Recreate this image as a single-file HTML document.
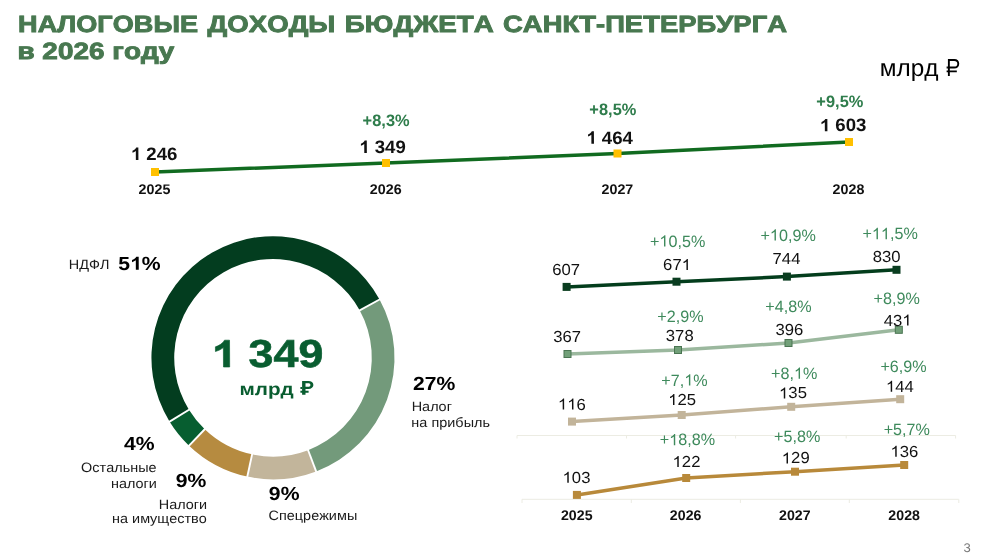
<!DOCTYPE html>
<html><head><meta charset="utf-8"><style>
html,body{margin:0;padding:0;background:#fff;}
body{width:990px;height:557px;overflow:hidden;}
svg{display:block;font-family:"Liberation Sans",sans-serif;will-change:transform;font-kerning:none;}
</style></head><body>
<svg width="990" height="557" viewBox="0 0 990 557">
<polyline points="155,172 386,163 617.5,153.5 849,142" fill="none" stroke="#116b20" stroke-width="3.5"/>
<rect x="151" y="168" width="8" height="8" fill="#ffc000"/>
<rect x="382" y="159" width="8" height="8" fill="#ffc000"/>
<rect x="613.5" y="149.5" width="8" height="8" fill="#ffc000"/>
<rect x="845" y="138" width="8" height="8" fill="#ffc000"/>
<path d="M379.57,299.45 A121.5,121.5 0 0 1 316.15,471.38 L308.08,450.16 A98.80000000000001,98.80000000000001 0 0 0 359.66,310.35Z" fill="#739a7b"/>
<path d="M316.15,471.38 A121.5,121.5 0 0 1 247.32,476.56 L252.12,454.37 A98.80000000000001,98.80000000000001 0 0 0 308.08,450.16Z" fill="#c2b59b"/>
<path d="M247.32,476.56 A121.5,121.5 0 0 1 189.06,445.64 L204.74,429.23 A98.80000000000001,98.80000000000001 0 0 0 252.12,454.37Z" fill="#b68b40"/>
<path d="M189.06,445.64 A121.5,121.5 0 0 1 169.63,421.64 L188.94,409.72 A98.80000000000001,98.80000000000001 0 0 0 204.74,429.23Z" fill="#075e30"/>
<path d="M169.63,421.64 A121.5,121.5 0 1 1 379.57,299.45 L359.66,310.35 A98.80000000000001,98.80000000000001 0 1 0 188.94,409.72Z" fill="#033d1f"/>
<line x1="358.78" y1="310.83" x2="380.45" y2="298.97" stroke="#fff" stroke-width="1.9"/>
<line x1="307.73" y1="449.23" x2="316.50" y2="472.32" stroke="#fff" stroke-width="1.9"/>
<line x1="252.33" y1="453.39" x2="247.11" y2="477.53" stroke="#fff" stroke-width="1.9"/>
<line x1="205.43" y1="428.51" x2="188.37" y2="446.36" stroke="#fff" stroke-width="1.9"/>
<line x1="189.79" y1="409.19" x2="168.78" y2="422.17" stroke="#fff" stroke-width="1.9"/>
<path d="M517,435.5 H955.6 M517,435.5 V438.5 M626.5,435.5 V438.5 M735.6,435.5 V438.5 M846.2,435.5 V438.5 M955.6,435.5 V438.5" stroke="#ecece3" stroke-width="1" fill="none"/>
<path d="M522,499.3 H958.8 M522,499.3 V503 M631.3,499.3 V503 M740.4,499.3 V503 M849.3,499.3 V503 M958.8,499.3 V503" stroke="#ecece3" stroke-width="1" fill="none"/>
<polyline points="566.6,286.9 676.5,281.7 786.9,276.6 896.5,269.8" fill="none" stroke="#033d1c" stroke-width="3.5"/>
<rect x="562.6" y="282.9" width="8" height="8" fill="#0a3d20"/>
<rect x="672.5" y="277.7" width="8" height="8" fill="#0a3d20"/>
<rect x="782.9" y="272.6" width="8" height="8" fill="#0a3d20"/>
<rect x="892.5" y="265.8" width="8" height="8" fill="#0a3d20"/>
<polyline points="567.5,354 678,350 788.5,343 898.8,329.8" fill="none" stroke="#9bb89e" stroke-width="3.5"/>
<rect x="564.0" y="350.5" width="7" height="7" fill="#72a079" stroke="#4a7552" stroke-width="1"/>
<rect x="674.5" y="346.5" width="7" height="7" fill="#72a079" stroke="#4a7552" stroke-width="1"/>
<rect x="785.0" y="339.5" width="7" height="7" fill="#72a079" stroke="#4a7552" stroke-width="1"/>
<rect x="895.3" y="326.3" width="7" height="7" fill="#72a079" stroke="#4a7552" stroke-width="1"/>
<polyline points="572,421.6 681.7,415 791.2,406.8 900.2,399.2" fill="none" stroke="#c2b49a" stroke-width="3.5"/>
<rect x="568" y="417.6" width="8" height="8" fill="#c2b49a"/>
<rect x="677.7" y="411" width="8" height="8" fill="#c2b49a"/>
<rect x="787.2" y="402.8" width="8" height="8" fill="#c2b49a"/>
<rect x="896.2" y="395.2" width="8" height="8" fill="#c2b49a"/>
<polyline points="576.9,494.9 686.2,478 795,471.7 904.2,465" fill="none" stroke="#b8893a" stroke-width="3.5"/>
<rect x="572.9" y="490.9" width="8" height="8" fill="#b8893a"/>
<rect x="682.2" y="474" width="8" height="8" fill="#b8893a"/>
<rect x="791" y="467.7" width="8" height="8" fill="#b8893a"/>
<rect x="900.2" y="461" width="8" height="8" fill="#b8893a"/>
<text transform="translate(18.05,32.3) skewX(0.3) scale(1.1547,1)" font-size="23.5" font-weight="bold" fill="#487850" stroke="#487850" stroke-width="0.9" stroke-linejoin="miter" stroke-miterlimit="2">НАЛОГОВЫЕ</text>
<text transform="translate(207.49,32.3) skewX(0.3) scale(1.1768,1)" font-size="23.5" font-weight="bold" fill="#487850" stroke="#487850" stroke-width="0.9" stroke-linejoin="miter" stroke-miterlimit="2">ДОХОДЫ</text>
<text transform="translate(344.82,32.3) skewX(0.3) scale(1.1816,1)" font-size="23.5" font-weight="bold" fill="#487850" stroke="#487850" stroke-width="0.9" stroke-linejoin="miter" stroke-miterlimit="2">БЮДЖЕТА</text>
<text transform="translate(503.02,32.3) skewX(0.3) scale(1.1682,1)" font-size="23.5" font-weight="bold" fill="#487850" stroke="#487850" stroke-width="0.9" stroke-linejoin="miter" stroke-miterlimit="2">САНКТ-ПЕТЕРБУРГА</text>
<text transform="translate(17.41,59.2) skewX(0.3) scale(1.1893,1)" font-size="23.5" font-weight="bold" fill="#487850" stroke="#487850" stroke-width="0.9" stroke-linejoin="miter" stroke-miterlimit="2">в 2026 году</text>
<text transform="translate(879.67,76.2) skewX(0.3) scale(1.0179,1)" font-size="24" font-weight="normal" fill="#000">млрд</text>
<text transform="translate(130.69,160) skewX(0.3) scale(1.0382,1)" font-size="18" font-weight="bold" fill="#111">  246</text>
<path transform="translate(130.69,160) skewX(0.3) scale(1.0382,1) translate(0.000,0) scale(0.00879,-0.00879)" d="M847,0 H566 V1018 Q412,879 203,813 V1058 Q313,1093 442,1190 Q571,1286 619,1409 H847 Z" fill="#111"/>
<text transform="translate(359.12,153) skewX(0.3) scale(1.0382,1)" font-size="18" font-weight="bold" fill="#111">  349</text>
<path transform="translate(359.12,153) skewX(0.3) scale(1.0382,1) translate(0.000,0) scale(0.00879,-0.00879)" d="M847,0 H566 V1018 Q412,879 203,813 V1058 Q313,1093 442,1190 Q571,1286 619,1409 H847 Z" fill="#111"/>
<text transform="translate(586.23,143.7) skewX(0.3) scale(1.0382,1)" font-size="18" font-weight="bold" fill="#111">  464</text>
<path transform="translate(586.23,143.7) skewX(0.3) scale(1.0382,1) translate(0.000,0) scale(0.00879,-0.00879)" d="M847,0 H566 V1018 Q412,879 203,813 V1058 Q313,1093 442,1190 Q571,1286 619,1409 H847 Z" fill="#111"/>
<text transform="translate(819.69,131.3) skewX(0.3) scale(1.0382,1)" font-size="18" font-weight="bold" fill="#111">  603</text>
<path transform="translate(819.69,131.3) skewX(0.3) scale(1.0382,1) translate(0.000,0) scale(0.00879,-0.00879)" d="M847,0 H566 V1018 Q412,879 203,813 V1058 Q313,1093 442,1190 Q571,1286 619,1409 H847 Z" fill="#111"/>
<text transform="translate(362.59,125.8) skewX(0.3) scale(0.9964,1)" font-size="16.5" font-weight="bold" fill="#2f7d4c">+8,3%</text>
<text transform="translate(589.34,115.4) skewX(0.3) scale(0.9964,1)" font-size="16.5" font-weight="bold" fill="#2f7d4c">+8,5%</text>
<text transform="translate(816.34,106.7) skewX(0.3) scale(0.9964,1)" font-size="16.5" font-weight="bold" fill="#2f7d4c">+9,5%</text>
<text transform="translate(138.49,193.8) skewX(0.3) scale(1.0245,1)" font-size="14" font-weight="bold" fill="#111">2025</text>
<text transform="translate(369.79,194) skewX(0.3) scale(1.0245,1)" font-size="14" font-weight="bold" fill="#111">2026</text>
<text transform="translate(601.47,194.3) skewX(0.3) scale(1.0245,1)" font-size="14" font-weight="bold" fill="#111">2027</text>
<text transform="translate(832.49,194.3) skewX(0.3) scale(1.0245,1)" font-size="14" font-weight="bold" fill="#111">2028</text>
<text transform="translate(211.07,367) skewX(0.3) scale(1.1526,1)" font-size="39" font-weight="bold" fill="#095d30" stroke="#095d30" stroke-width="0.6" stroke-linejoin="miter" stroke-miterlimit="2">  349</text>
<path transform="translate(211.07,367) skewX(0.3) scale(1.1526,1) translate(0.000,0) scale(0.01904,-0.01904)" d="M847,0 H566 V1018 Q412,879 203,813 V1058 Q313,1093 442,1190 Q571,1286 619,1409 H847 Z" fill="#095d30" stroke="#095d30" stroke-width="31.5" stroke-linejoin="miter" stroke-miterlimit="2"/>
<text transform="translate(239.42,394.7) skewX(0.3) scale(1.1864,1)" font-size="17.5" font-weight="bold" fill="#095d30">млрд</text>
<text transform="translate(68.78,268.9) skewX(0.3) scale(1.0720,1)" font-size="13.5" font-weight="normal" fill="#1a1a1a">НДФЛ</text>
<text transform="translate(118.19,269.8) skewX(0.3) scale(1.1164,1)" font-size="19" font-weight="bold" fill="#000">5 %</text>
<path transform="translate(118.19,269.8) skewX(0.3) scale(1.1164,1) translate(10.562,0) scale(0.00928,-0.00928)" d="M847,0 H566 V1018 Q412,879 203,813 V1058 Q313,1093 442,1190 Q571,1286 619,1409 H847 Z" fill="#000"/>
<text transform="translate(412.90,389.5) skewX(0.3) scale(1.1164,1)" font-size="19" font-weight="bold" fill="#000">27%</text>
<text transform="translate(411.68,410.9) skewX(0.3) scale(1.0720,1)" font-size="13.5" font-weight="normal" fill="#1a1a1a">Налог</text>
<text transform="translate(411.37,426.6) skewX(0.3) scale(1.0720,1)" font-size="13.5" font-weight="normal" fill="#1a1a1a">на прибыль</text>
<text transform="translate(123.89,449.7) skewX(0.3) scale(1.1164,1)" font-size="19" font-weight="bold" fill="#000">4%</text>
<text transform="translate(81.08,472) skewX(0.3) scale(1.0720,1)" font-size="13.5" font-weight="normal" fill="#1a1a1a">Остальные</text>
<text transform="translate(110.99,487.8) skewX(0.3) scale(1.0720,1)" font-size="13.5" font-weight="normal" fill="#1a1a1a">налоги</text>
<text transform="translate(175.80,487.2) skewX(0.3) scale(1.1164,1)" font-size="19" font-weight="bold" fill="#000">9%</text>
<text transform="translate(158.80,508.9) skewX(0.3) scale(1.0720,1)" font-size="13.5" font-weight="normal" fill="#1a1a1a">Налоги</text>
<text transform="translate(112.00,523.3) skewX(0.3) scale(1.0720,1)" font-size="13.5" font-weight="normal" fill="#1a1a1a">на имущество</text>
<text transform="translate(268.85,499.8) skewX(0.3) scale(1.1164,1)" font-size="19" font-weight="bold" fill="#000">9%</text>
<text transform="translate(268.50,519.6) skewX(0.3) scale(1.0720,1)" font-size="13.5" font-weight="normal" fill="#1a1a1a">Спецрежимы</text>
<text transform="translate(552.15,274.5) skewX(0.3) scale(1.0455,1)" font-size="16" font-weight="normal" fill="#111">607</text>
<text transform="translate(663.09,270.1) skewX(0.3) scale(1.0455,1)" font-size="16" font-weight="normal" fill="#111">67 </text>
<path transform="translate(663.09,270.1) skewX(0.3) scale(1.0455,1) translate(17.797,0) scale(0.00781,-0.00781)" d="M763,0 H583 V1102 Q518,1043 412,983 Q306,924 221,894 V1061 Q372,1129 485,1226 Q598,1323 645,1409 H763 Z" fill="#111"/>
<text transform="translate(772.54,264.4) skewX(0.3) scale(1.0455,1)" font-size="16" font-weight="normal" fill="#111">744</text>
<text transform="translate(872.67,262) skewX(0.3) scale(1.0455,1)" font-size="16" font-weight="normal" fill="#111">830</text>
<text transform="translate(553.20,341.5) skewX(0.3) scale(1.0455,1)" font-size="16" font-weight="normal" fill="#111">367</text>
<text transform="translate(665.82,340.9) skewX(0.3) scale(1.0455,1)" font-size="16" font-weight="normal" fill="#111">378</text>
<text transform="translate(775.52,334.5) skewX(0.3) scale(1.0455,1)" font-size="16" font-weight="normal" fill="#111">396</text>
<text transform="translate(883.70,325.5) skewX(0.3) scale(1.0455,1)" font-size="16" font-weight="normal" fill="#111">43 </text>
<path transform="translate(883.70,325.5) skewX(0.3) scale(1.0455,1) translate(17.797,0) scale(0.00781,-0.00781)" d="M763,0 H583 V1102 Q518,1043 412,983 Q306,924 221,894 V1061 Q372,1129 485,1226 Q598,1323 645,1409 H763 Z" fill="#111"/>
<text transform="translate(557.94,409.5) skewX(0.3) scale(1.0455,1)" font-size="16" font-weight="normal" fill="#111">  6</text>
<path transform="translate(557.94,409.5) skewX(0.3) scale(1.0455,1) translate(0.000,0) scale(0.00781,-0.00781)" d="M763,0 H583 V1102 Q518,1043 412,983 Q306,924 221,894 V1061 Q372,1129 485,1226 Q598,1323 645,1409 H763 Z" fill="#111"/>
<path transform="translate(557.94,409.5) skewX(0.3) scale(1.0455,1) translate(8.891,0) scale(0.00781,-0.00781)" d="M763,0 H583 V1102 Q518,1043 412,983 Q306,924 221,894 V1061 Q372,1129 485,1226 Q598,1323 645,1409 H763 Z" fill="#111"/>
<text transform="translate(668.24,405.1) skewX(0.3) scale(1.0455,1)" font-size="16" font-weight="normal" fill="#111"> 25</text>
<path transform="translate(668.24,405.1) skewX(0.3) scale(1.0455,1) translate(0.000,0) scale(0.00781,-0.00781)" d="M763,0 H583 V1102 Q518,1043 412,983 Q306,924 221,894 V1061 Q372,1129 485,1226 Q598,1323 645,1409 H763 Z" fill="#111"/>
<text transform="translate(779.04,398.4) skewX(0.3) scale(1.0455,1)" font-size="16" font-weight="normal" fill="#111"> 35</text>
<path transform="translate(779.04,398.4) skewX(0.3) scale(1.0455,1) translate(0.000,0) scale(0.00781,-0.00781)" d="M763,0 H583 V1102 Q518,1043 412,983 Q306,924 221,894 V1061 Q372,1129 485,1226 Q598,1323 645,1409 H763 Z" fill="#111"/>
<text transform="translate(885.96,391.8) skewX(0.3) scale(1.0455,1)" font-size="16" font-weight="normal" fill="#111"> 44</text>
<path transform="translate(885.96,391.8) skewX(0.3) scale(1.0455,1) translate(0.000,0) scale(0.00781,-0.00781)" d="M763,0 H583 V1102 Q518,1043 412,983 Q306,924 221,894 V1061 Q372,1129 485,1226 Q598,1323 645,1409 H763 Z" fill="#111"/>
<text transform="translate(562.54,482.8) skewX(0.3) scale(1.0455,1)" font-size="16" font-weight="normal" fill="#111"> 03</text>
<path transform="translate(562.54,482.8) skewX(0.3) scale(1.0455,1) translate(0.000,0) scale(0.00781,-0.00781)" d="M763,0 H583 V1102 Q518,1043 412,983 Q306,924 221,894 V1061 Q372,1129 485,1226 Q598,1323 645,1409 H763 Z" fill="#111"/>
<text transform="translate(672.54,467) skewX(0.3) scale(1.0455,1)" font-size="16" font-weight="normal" fill="#111"> 22</text>
<path transform="translate(672.54,467) skewX(0.3) scale(1.0455,1) translate(0.000,0) scale(0.00781,-0.00781)" d="M763,0 H583 V1102 Q518,1043 412,983 Q306,924 221,894 V1061 Q372,1129 485,1226 Q598,1323 645,1409 H763 Z" fill="#111"/>
<text transform="translate(781.79,463.4) skewX(0.3) scale(1.0455,1)" font-size="16" font-weight="normal" fill="#111"> 29</text>
<path transform="translate(781.79,463.4) skewX(0.3) scale(1.0455,1) translate(0.000,0) scale(0.00781,-0.00781)" d="M763,0 H583 V1102 Q518,1043 412,983 Q306,924 221,894 V1061 Q372,1129 485,1226 Q598,1323 645,1409 H763 Z" fill="#111"/>
<text transform="translate(890.49,456.8) skewX(0.3) scale(1.0455,1)" font-size="16" font-weight="normal" fill="#111"> 36</text>
<path transform="translate(890.49,456.8) skewX(0.3) scale(1.0455,1) translate(0.000,0) scale(0.00781,-0.00781)" d="M763,0 H583 V1102 Q518,1043 412,983 Q306,924 221,894 V1061 Q372,1129 485,1226 Q598,1323 645,1409 H763 Z" fill="#111"/>
<text transform="translate(649.96,246.5) skewX(0.3) scale(0.9820,1)" font-size="16.5" font-weight="normal" fill="#3e8a5c">+ 0,5%</text>
<path transform="translate(649.96,246.5) skewX(0.3) scale(0.9820,1) translate(9.625,0) scale(0.00806,-0.00806)" d="M763,0 H583 V1102 Q518,1043 412,983 Q306,924 221,894 V1061 Q372,1129 485,1226 Q598,1323 645,1409 H763 Z" fill="#3e8a5c"/>
<text transform="translate(760.46,240.6) skewX(0.3) scale(0.9820,1)" font-size="16.5" font-weight="normal" fill="#3e8a5c">+ 0,9%</text>
<path transform="translate(760.46,240.6) skewX(0.3) scale(0.9820,1) translate(9.625,0) scale(0.00806,-0.00806)" d="M763,0 H583 V1102 Q518,1043 412,983 Q306,924 221,894 V1061 Q372,1129 485,1226 Q598,1323 645,1409 H763 Z" fill="#3e8a5c"/>
<text transform="translate(862.46,239.2) skewX(0.3) scale(0.9820,1)" font-size="16.5" font-weight="normal" fill="#3e8a5c">+  ,5%</text>
<path transform="translate(862.46,239.2) skewX(0.3) scale(0.9820,1) translate(9.625,0) scale(0.00806,-0.00806)" d="M763,0 H583 V1102 Q518,1043 412,983 Q306,924 221,894 V1061 Q372,1129 485,1226 Q598,1323 645,1409 H763 Z" fill="#3e8a5c"/>
<path transform="translate(862.46,239.2) skewX(0.3) scale(0.9820,1) translate(18.797,0) scale(0.00806,-0.00806)" d="M763,0 H583 V1102 Q518,1043 412,983 Q306,924 221,894 V1061 Q372,1129 485,1226 Q598,1323 645,1409 H763 Z" fill="#3e8a5c"/>
<text transform="translate(657.25,322.2) skewX(0.3) scale(0.9820,1)" font-size="16.5" font-weight="normal" fill="#3e8a5c">+2,9%</text>
<text transform="translate(765.25,311.9) skewX(0.3) scale(0.9820,1)" font-size="16.5" font-weight="normal" fill="#3e8a5c">+4,8%</text>
<text transform="translate(873.55,304.2) skewX(0.3) scale(0.9820,1)" font-size="16.5" font-weight="normal" fill="#3e8a5c">+8,9%</text>
<text transform="translate(661.35,385.5) skewX(0.3) scale(0.9820,1)" font-size="16.5" font-weight="normal" fill="#3e8a5c">+7, %</text>
<path transform="translate(661.35,385.5) skewX(0.3) scale(0.9820,1) translate(23.390,0) scale(0.00806,-0.00806)" d="M763,0 H583 V1102 Q518,1043 412,983 Q306,924 221,894 V1061 Q372,1129 485,1226 Q598,1323 645,1409 H763 Z" fill="#3e8a5c"/>
<text transform="translate(771.05,378.8) skewX(0.3) scale(0.9820,1)" font-size="16.5" font-weight="normal" fill="#3e8a5c">+8, %</text>
<path transform="translate(771.05,378.8) skewX(0.3) scale(0.9820,1) translate(23.390,0) scale(0.00806,-0.00806)" d="M763,0 H583 V1102 Q518,1043 412,983 Q306,924 221,894 V1061 Q372,1129 485,1226 Q598,1323 645,1409 H763 Z" fill="#3e8a5c"/>
<text transform="translate(880.40,372) skewX(0.3) scale(0.9820,1)" font-size="16.5" font-weight="normal" fill="#3e8a5c">+6,9%</text>
<text transform="translate(659.76,445.3) skewX(0.3) scale(0.9820,1)" font-size="16.5" font-weight="normal" fill="#3e8a5c">+ 8,8%</text>
<path transform="translate(659.76,445.3) skewX(0.3) scale(0.9820,1) translate(9.625,0) scale(0.00806,-0.00806)" d="M763,0 H583 V1102 Q518,1043 412,983 Q306,924 221,894 V1061 Q372,1129 485,1226 Q598,1323 645,1409 H763 Z" fill="#3e8a5c"/>
<text transform="translate(774.00,441.7) skewX(0.3) scale(0.9820,1)" font-size="16.5" font-weight="normal" fill="#3e8a5c">+5,8%</text>
<text transform="translate(883.65,435) skewX(0.3) scale(0.9820,1)" font-size="16.5" font-weight="normal" fill="#3e8a5c">+5,7%</text>
<text transform="translate(560.96,520.1) skewX(0.3) scale(1.0170,1)" font-size="14" font-weight="bold" fill="#111">2025</text>
<text transform="translate(669.81,520.1) skewX(0.3) scale(1.0170,1)" font-size="14" font-weight="bold" fill="#111">2026</text>
<text transform="translate(779.04,520.1) skewX(0.3) scale(1.0170,1)" font-size="14" font-weight="bold" fill="#111">2027</text>
<text transform="translate(888.36,520.1) skewX(0.3) scale(1.0170,1)" font-size="14" font-weight="bold" fill="#111">2028</text>
<text transform="translate(963.41,551.7) skewX(0.3) scale(1.0500,1)" font-size="12.5" font-weight="normal" fill="#777">3</text>
<g transform="translate(947.92,76.0)" fill="#000"><path d="M0,0 V-16.96 H6.4 C9.4,-16.96 11.3,-15.2 11.3,-12.26 C11.3,-9.3 9.4,-7.56 6.4,-7.56 H1.9 V0 Z M1.9,-15.1 H6.3 C8.3,-15.1 9.4,-14.1 9.4,-12.26 C9.4,-10.4 8.3,-9.4 6.3,-9.4 H1.9 Z" fill-rule="evenodd"/><path d="M-1.3,-9.4 H0 V-7.56 H-1.3 Z M-1.3,-5.4 H8.9 V-3.7 H-1.3 Z"/></g>
<g transform="translate(302.1,394.8)" fill="#095d30"><path d="M0,0 V-13.8 H6.2 C9.3,-13.8 11.3,-12.2 11.3,-9.85 C11.3,-7.5 9.3,-5.9 6.2,-5.9 H3.4 V0 Z M3.4,-11.6 H5.9 C7.6,-11.6 8.3,-11 8.3,-9.85 C8.3,-8.7 7.6,-8.1 5.9,-8.1 H3.4 Z" fill-rule="evenodd"/><path d="M-1.7,-7.9 H0 V-5.9 H-1.7 Z M-1.7,-4.1 H6.5 V-2.1 H-1.7 Z"/></g>
</svg>
</body></html>
